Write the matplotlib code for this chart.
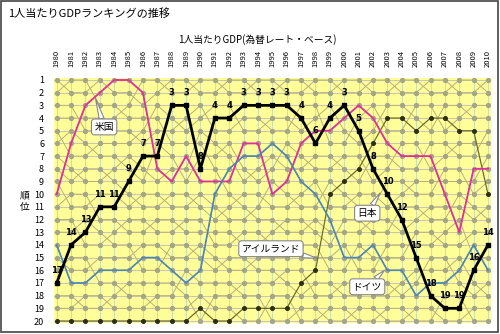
"""1人当たりGDPランキングの推移 (rank chart, 1980-2010)."""

import matplotlib
matplotlib.use("Agg")
import matplotlib.pyplot as plt
from matplotlib.patches import Rectangle

plt.rcParams["font.family"] = ["Noto Sans CJK JP", "DejaVu Sans"]

YEARS = list(range(1980, 2011))
RANKS = list(range(1, 21))

JAPAN = [17, 14, 13, 11, 11, 9, 7, 7, 3, 3, 8, 4, 4, 3, 3, 3, 3, 4, 6, 4, 3, 5, 8, 10, 12, 15, 18, 19, 19, 16, 14]
USA = [10, 6, 3, 2, 1, 1, 2, 8, 9, 7, 9, 9, 9, 6, 6, 10, 9, 6, 5, 5, 4, 3, 4, 6, 7, 7, 7, 10, 13, 8, 8]
GERMANY = [14, 17, 17, 16, 16, 16, 15, 15, 16, 17, 16, 10, 8, 7, 7, 6, 7, 9, 10, 12, 15, 15, 14, 16, 16, 18, 17, 17, 16, 14, 16]
IRELAND = [20, 20, 20, 20, 20, 20, 20, 20, 20, 20, 19, 20, 20, 19, 19, 19, 19, 17, 16, 10, 9, 8, 6, 4, 4, 5, 4, 4, 5, 5, 10]

# other countries (grey lines), ranks
OTHERS = {
    "A": [1, 2, 2, 1, 2, 2, 3, 2, 1, 1, 2, 2, 1, 1, 2, 2, 1, 1, 2, 2, 1, 1, 2, 2, 1, 1, 2, 2, 1, 1, 2],
    "B": [2, 1, 1, 3, 3, 4, 4, 4, 6, 6, 6, 8, 10, 11, 12, 12, 13, 13, 12, 13, 13, 13, 12, 12, 13, 12, 11, 11, 11, 12, 11],
    "C": [3, 3, 5, 5, 4, 3, 1, 1, 2, 2, 1, 1, 2, 2, 1, 1, 2, 2, 1, 1, 2, 2, 1, 1, 2, 2, 1, 1, 2, 2, 1],
    "D": [4, 4, 4, 4, 5, 5, 6, 5, 5, 4, 3, 5, 5, 4, 4, 5, 5, 3, 3, 6, 6, 4, 3, 5, 5, 3, 3, 5, 4, 3, 3],
    "E": [5, 7, 7, 6, 6, 6, 5, 3, 4, 5, 4, 3, 3, 5, 5, 4, 4, 5, 4, 3, 5, 6, 5, 3, 3, 4, 5, 3, 3, 4, 4],
    "F": [6, 5, 6, 7, 7, 8, 9, 6, 7, 9, 7, 7, 6, 8, 9, 8, 6, 7, 8, 8, 7, 7, 9, 8, 6, 6, 8, 7, 6, 6, 6],
    "G": [7, 8, 9, 9, 8, 7, 8, 9, 8, 8, 5, 6, 7, 9, 8, 7, 8, 8, 7, 7, 8, 9, 7, 7, 8, 8, 6, 6, 7, 7, 5],
    "H": [8, 9, 8, 8, 9, 10, 11, 11, 10, 10, 11, 12, 11, 10, 10, 11, 11, 10, 9, 11, 11, 10, 10, 11, 10, 9, 9, 9, 9, 9, 7],
    "I": [9, 11, 11, 10, 10, 11, 10, 10, 11, 11, 10, 11, 12, 12, 11, 9, 10, 11, 11, 9, 10, 11, 11, 9, 9, 10, 10, 8, 8, 10, 9],
    "J": [11, 10, 10, 12, 12, 13, 13, 12, 12, 13, 13, 13, 13, 14, 14, 13, 12, 12, 13, 14, 12, 12, 13, 13, 11, 11, 12, 12, 10, 11, 12],
    "K": [12, 12, 14, 14, 13, 12, 12, 13, 13, 12, 12, 14, 14, 13, 13, 14, 14, 15, 15, 15, 14, 16, 16, 14, 14, 14, 14, 13, 12, 15, 15],
    "L": [13, 13, 12, 13, 14, 14, 16, 16, 14, 14, 15, 16, 15, 15, 16, 16, 17, 18, 17, 17, 18, 18, 17, 17, 18, 17, 15, 15, 17, 18, 17],
    "M": [15, 16, 16, 15, 15, 15, 14, 14, 15, 15, 14, 15, 16, 16, 15, 15, 15, 14, 14, 16, 16, 14, 15, 15, 15, 13, 13, 14, 14, 13, 13],
    "N": [16, 15, 15, 17, 17, 18, 18, 19, 19, 19, 18, 19, 19, 20, 20, 18, 18, 20, 20, 19, 19, 20, 20, 19, 19, 20, 20, 18, 18, 20, 20],
    "O": [18, 18, 19, 19, 18, 17, 17, 17, 17, 18, 20, 18, 18, 17, 17, 17, 16, 16, 18, 18, 17, 17, 18, 18, 17, 16, 16, 16, 15, 17, 18],
    "P": [19, 19, 18, 18, 19, 19, 19, 18, 18, 16, 17, 17, 17, 18, 18, 20, 20, 19, 19, 20, 20, 19, 19, 20, 20, 19, 19, 20, 20, 19, 19],
}

CALLOUTS = [
    ("米国", (1982.7, 2.45), (1983.3, 4.7)),
    ("日本", (2002.5, 9.9), (2001.6, 11.5)),
    ("アイルランド", (1998.1, 15.05), (1994.9, 14.3)),
    ("ドイツ", (2002.8, 16.0), (2001.6, 17.3)),
]

fig = plt.figure(figsize=(5.0, 3.34), dpi=100)
ax = fig.add_axes([0.1076, 0.0332, 0.8742, 0.733])
ax.set_facecolor("#FFFF99")

for y in YEARS:
    ax.axvline(y, color="#CFE0B0", linewidth=0.8, zorder=0)
for r in RANKS:
    ax.axhline(r, color="#C8C8B4", linewidth=0.7, zorder=0)

grey = dict(color="#B8B07A", linewidth=0.7, marker="o", markersize=2.8,
            markerfacecolor="#A5A588", markeredgecolor="#A5A588", zorder=1)
for ranks in list(OTHERS.values()) + [USA, GERMANY]:
    ax.plot(YEARS, ranks, **grey)

ax.plot(YEARS, IRELAND, color="#6B6B2E", linewidth=0.9, marker="o", markersize=2.6,
        markerfacecolor="#2E2E14", markeredgecolor="#2E2E14", zorder=3)
ax.plot(YEARS, USA, color="#E0309E", linewidth=1.3, zorder=4)
ax.plot(YEARS, GERMANY, color="#4A86B8", linewidth=1.2, zorder=4)
ax.plot(YEARS, JAPAN, color="black", linewidth=2.0, marker="s", markersize=3, zorder=5)
for year, rank in zip(YEARS, JAPAN):
    ax.annotate(str(rank), (year, rank), xytext=(0, 9), textcoords="offset points",
                ha="center", va="center", fontsize=6, fontweight="bold", zorder=6,
                family=["DejaVu Sans Condensed", "DejaVu Sans"])

for text, tip, pos in CALLOUTS:
    ax.annotate(text, tip, xytext=pos, ha="center", va="center", fontsize=7, zorder=7,
                bbox=dict(boxstyle="round,pad=0.3", fc="white", ec="#888888", lw=0.8),
                arrowprops=dict(arrowstyle="wedge,tail_width=0.5", fc="white", ec="#888888",
                                lw=0.8, shrinkA=0, shrinkB=0))

ax.set_xlim(1979.8, 2010.2)
ax.set_ylim(20.15, 0.85)
ax.xaxis.tick_top()
ax.set_xticks(YEARS)
ax.set_xticklabels([str(y) for y in YEARS], rotation=90, fontsize=5.5)
ax.set_yticks(RANKS)
ax.set_yticklabels([str(r) for r in RANKS], fontsize=6.5)
ax.tick_params(axis="both", length=0)
ax.tick_params(axis="x", pad=8)
ax.tick_params(axis="y", pad=7)
for spine in ax.spines.values():
    spine.set_visible(False)

fig.text(0.05, 0.398, "順\n位", fontsize=7, ha="center", va="center", linespacing=1.3)
fig.text(0.016, 0.958, "1人当たりGDPランキングの推移", fontsize=8, ha="left", va="center")
fig.text(0.515, 0.883, "1人当たりGDP(為替レート・ベース)", fontsize=7, ha="center", va="center")
fig.patches.append(Rectangle((0.002, 0.006), 0.993, 0.99, transform=fig.transFigure,
                             fill=False, edgecolor="#444444", linewidth=1.2))

fig.savefig("out.png", dpi=100)
